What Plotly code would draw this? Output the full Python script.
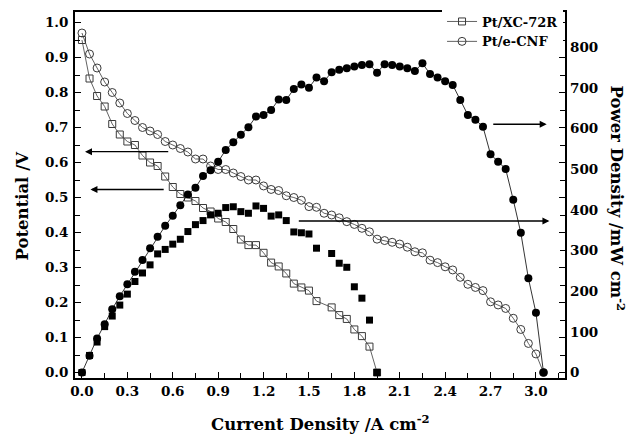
import plotly.graph_objects as go

# ---------------- data ----------------
xc_j = [0.00, 0.05, 0.10, 0.15, 0.20, 0.25, 0.30, 0.35, 0.40, 0.45, 0.50, 0.55, 0.60,
        0.65, 0.70, 0.75, 0.80, 0.85, 0.90, 0.95, 1.00, 1.05, 1.10, 1.15, 1.20, 1.25,
        1.30, 1.35, 1.40, 1.45, 1.50, 1.55, 1.65, 1.70, 1.75, 1.80, 1.85, 1.90, 1.95]
xc_v = [0.95, 0.84, 0.79, 0.76, 0.71, 0.68, 0.66, 0.65, 0.62, 0.60, 0.59, 0.56, 0.53,
        0.51, 0.50, 0.49, 0.47, 0.46, 0.44, 0.43, 0.41, 0.38, 0.364, 0.364, 0.342, 0.314,
        0.303, 0.283, 0.254, 0.243, 0.234, 0.204, 0.186, 0.164, 0.153, 0.123, 0.104, 0.074, 0.0]
xc_p = [0, 42, 75, 113, 139, 166, 193, 224, 245, 265, 292, 303, 316,
        328, 347, 364, 374, 388, 392, 406, 408, 396, 392, 410, 404, 385,
        388, 374, 346, 344, 341, 306, 293, 269, 259, 211, 183, 129, 0]

cnf_j = [0.00, 0.05, 0.10, 0.15, 0.20, 0.25, 0.30, 0.35, 0.40, 0.45,
         0.50, 0.55, 0.60, 0.65, 0.70, 0.75, 0.80, 0.85, 0.90, 0.95,
         1.00, 1.05, 1.10, 1.15, 1.20, 1.25, 1.30, 1.35, 1.40, 1.45,
         1.50, 1.55, 1.60, 1.65, 1.70, 1.75, 1.80, 1.85, 1.90, 1.95,
         2.00, 2.05, 2.10, 2.15, 2.20, 2.25, 2.30, 2.35, 2.40, 2.45,
         2.50, 2.55, 2.60, 2.65, 2.70, 2.75, 2.80, 2.85, 2.90, 2.95,
         3.00, 3.05]
cnf_v = [0.97, 0.91, 0.87, 0.83, 0.80, 0.77, 0.74, 0.72, 0.70, 0.69,
         0.68, 0.66, 0.65, 0.64, 0.63, 0.61, 0.61, 0.59, 0.58, 0.58,
         0.57, 0.56, 0.55, 0.55, 0.533, 0.523, 0.52, 0.505, 0.50, 0.492,
         0.474, 0.472, 0.455, 0.45, 0.442, 0.431, 0.423, 0.412, 0.402, 0.381,
         0.377, 0.372, 0.367, 0.358, 0.345, 0.342, 0.321, 0.314, 0.302, 0.293,
         0.272, 0.252, 0.243, 0.234, 0.202, 0.193, 0.183, 0.155, 0.123, 0.083,
         0.053, 0.0]
cnf_p = [0, 41, 84, 119, 156, 188, 217, 248, 277, 306,
         334, 361, 386, 412, 438, 455, 484, 498, 519, 548,
         567, 585, 604, 630, 634, 646, 672, 671, 698, 709,
         701, 726, 717, 739, 745, 749, 753, 757, 759, 738,
         759, 757, 753, 749, 742, 761, 735, 726, 717, 708,
         671, 634, 622, 605, 537, 519, 501, 425, 344, 232,
         147, 0]

series_names = ["Pt/XC-72R", "Pt/e-CNF"]
x_title = "Current Density /A cm<sup>-2</sup>"
y_title = "Potential /V"
y2_title = "Power Density /mW cm<sup>-2</sup>"

# ---------------- styling ----------------
FONT = "DejaVu Serif"
tickfont = dict(family=FONT, size=13.5, color="black", weight="bold")
titlefont = dict(family=FONT, size=16.5, color="black", weight="bold")
OPEN = "#3a3a3a"

fig = go.Figure()
fig.add_trace(go.Scatter(
    x=xc_j, y=xc_v, name=series_names[0], mode="lines+markers",
    marker=dict(symbol="square-open", size=7, color=OPEN, line=dict(width=1, color=OPEN)),
    line=dict(color=OPEN, width=0.8)))
fig.add_trace(go.Scatter(
    x=cnf_j, y=cnf_v, name=series_names[1], mode="lines+markers",
    marker=dict(symbol="circle-open", size=8, color=OPEN, line=dict(width=1, color=OPEN)),
    line=dict(color=OPEN, width=0.8)))
fig.add_trace(go.Scatter(
    x=xc_j, y=xc_p, yaxis="y2", mode="markers", showlegend=False,
    marker=dict(symbol="square", size=7, color="black")))
fig.add_trace(go.Scatter(
    x=cnf_j, y=cnf_p, yaxis="y2", mode="lines+markers", showlegend=False,
    marker=dict(symbol="circle", size=8, color="black"),
    line=dict(color="black", width=0.8)))

axis_common = dict(showgrid=False, zeroline=False, showline=True, linecolor="black",
                   linewidth=1.8, ticks="inside", ticklen=6, tickwidth=1.4,
                   tickcolor="black", tickfont=tickfont, automargin=False)

# the page body adds an 8 px offset, so the figure is 8 px smaller on each axis
fig.update_layout(
    width=631, height=427,
    margin=dict(l=67, r=74, t=4, b=57, autoexpand=False),
    paper_bgcolor="white", plot_bgcolor="white",
    xaxis=dict(range=[-0.046, 3.192], tick0=0, dtick=0.3, tickformat=".1f",
               mirror=True, ticklabelstandoff=0,
               minor=dict(dtick=0.15, ticks="inside", ticklen=5, tickwidth=1.4,
                          tickcolor="black", showgrid=False),
               **axis_common),
    yaxis=dict(range=[-0.0157, 1.030], tick0=0, dtick=0.1, tickformat=".1f",
               mirror="ticks", ticklabelstandoff=2,
               minor=dict(dtick=0.05, ticks="inside", ticklen=5, tickwidth=1.4,
                          tickcolor="black", showgrid=False),
               **axis_common),
    yaxis2=dict(overlaying="y", side="right", range=[-13.5, 887.4], tick0=0, dtick=100,
                showgrid=False, zeroline=False, showline=False, ticks="",
                tickfont=tickfont, ticklabelstandoff=4, automargin=False),
    legend=dict(x=0.996, y=1.015, xanchor="right", yanchor="top",
                xref="paper", yref="paper",
                bgcolor="white", borderwidth=0,
                font=dict(family=FONT, size=13, color="black", weight="bold"),
                tracegroupgap=0),
    showlegend=True,
)

arrow = dict(showarrow=True, arrowhead=2, arrowsize=1, arrowwidth=1.4,
             arrowcolor="black", text="", standoff=0)
fig.add_annotation(x=0.02, y=0.631, ax=0.58, ay=0.631, xref="x", yref="y",
                   axref="x", ayref="y", **arrow)
fig.add_annotation(x=0.056, y=0.523, ax=0.55, ay=0.523, xref="x", yref="y",
                   axref="x", ayref="y", **arrow)
fig.add_annotation(x=3.071, y=611, ax=2.708, ay=611, xref="x", yref="y2",
                   axref="x", ayref="y2", **arrow)
fig.add_annotation(x=3.089, y=373, ax=1.423, ay=373, xref="x", yref="y2",
                   axref="x", ayref="y2", **arrow)

# axis titles
fig.add_annotation(text=x_title, xref="paper", yref="paper", x=0.5, y=-0.123,
                   xanchor="center", yanchor="middle", showarrow=False, font=titlefont)
fig.add_annotation(text=y_title, xref="paper", yref="paper", x=-0.107, y=0.47,
                   xanchor="center", yanchor="middle", textangle=-90,
                   showarrow=False, font=titlefont)
fig.add_annotation(text=y2_title, xref="paper", yref="paper", x=1.107, y=0.489,
                   xanchor="center", yanchor="middle", textangle=90,
                   showarrow=False, font=titlefont)

fig.write_html("out.html")
